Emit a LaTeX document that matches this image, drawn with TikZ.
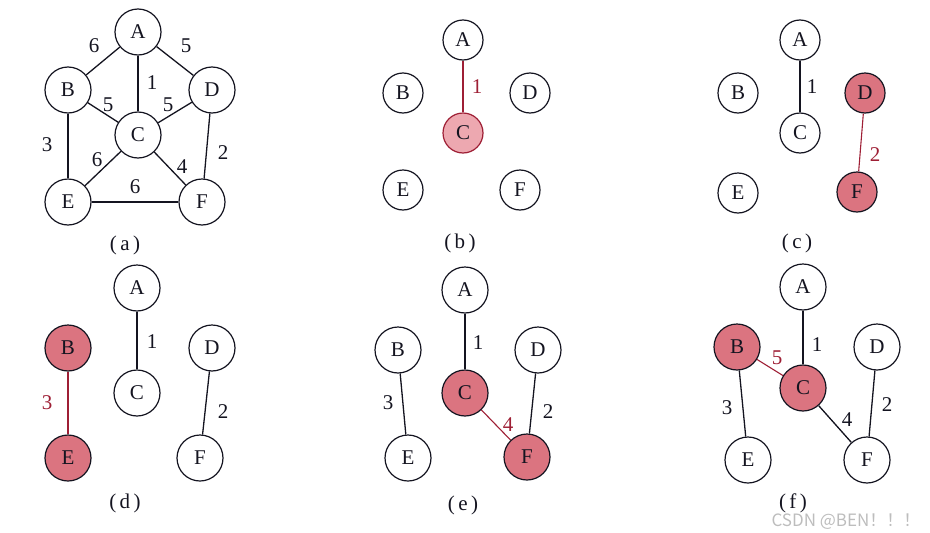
\documentclass[tikz,border=0pt]{standalone}
\usepackage{fontspec}
\setmainfont{Liberation Serif}
\newfontfamily\cjkfont{Noto Sans CJK SC}
\usetikzlibrary{positioning}
\definecolor{cRed}{HTML}{9E1F35}
\definecolor{cPink}{HTML}{DB7480}
\definecolor{cPinkLt}{HTML}{EDA8B0}
\definecolor{cInk}{HTML}{141420}
\definecolor{cMark}{HTML}{BDBDBD}

\begin{document}
\begin{tikzpicture}[x=1pt,y=-1pt,font=\fontsize{21}{24}\selectfont,
      vtx/.style={circle,draw=cInk,line width=1.2pt,minimum size=46pt,inner sep=0pt,text=cInk},
      vsm/.style={vtx,minimum size=40pt},
      hot/.style={fill=cPink},
      wgt/.style={text=cInk,inner sep=1pt},
      wred/.style={wgt,text=cRed},
      edg/.style={line width=1.3pt,cInk},
      ered/.style={line width=1.1pt,cRed},
      sublbl/.style={inner sep=1pt,text=cInk}]
    \useasboundingbox (0,0) rectangle (930,533);

    % (a) the whole graph
    \node[vtx] (aA) at (138,32) {A};
    \node[vtx] (aB) at (68,90) {B};
    \node[vtx] (aD) at (212,90) {D};
    \node[vtx] (aC) at (138,135) {C};
    \node[vtx] (aE) at (68,202) {E};
    \node[vtx] (aF) at (202,202) {F};
    \draw[edg] (aA) -- (aB);
    \draw[edg] (aA) -- (aD);
    \draw[edg] (aA) -- (aC);
    \draw[edg] (aB) -- (aC);
    \draw[edg] (aD) -- (aC);
    \draw[edg] (aB) -- (aE);
    \draw[edg] (aE) -- (aC);
    \draw[edg] (aC) -- (aF);
    \draw[edg] (aD) -- (aF);
    \draw[edg] (aE) -- (aF);
    \node[wgt] (aAB) at (94,46) {6};
    \node[wgt] (aAD) at (186,46) {5};
    \node[wgt] (aAC) at (152,83) {1};
    \node[wgt] (aBC) at (108,105) {5};
    \node[wgt] (aDC) at (168,105) {5};
    \node[wgt] (aBE) at (47,145) {3};
    \node[wgt] (aEC) at (97,160) {6};
    \node[wgt] (aCF) at (182,167) {4};
    \node[wgt] (aDF) at (223,153) {2};
    \node[wgt] (aEF) at (135,187) {6};
    \node[sublbl] (capa) at (125,245) {(\,a\,)};

    % (b) first edge
    \node[vsm] (bA) at (463,40) {A};
    \node[vsm] (bB) at (403,93) {B};
    \node[vsm] (bD) at (530,93) {D};
    \node[vsm,draw=cRed,fill=cPinkLt] (bC) at (463,133) {C};
    \node[vsm] (bE) at (403,190) {E};
    \node[vsm] (bF) at (520,190) {F};
    \draw[ered] (bA) -- (bC);
    \node[wred] (bAC) at (477,87) {1};
    \node[sublbl] (capb) at (460,243) {(\,b\,)};

    % (c)
    \node[vsm] (cA) at (800,40) {A};
    \node[vsm] (cB) at (738,93) {B};
    \node[vsm,hot] (cD) at (865,93) {D};
    \node[vsm] (cC) at (800,133) {C};
    \node[vsm] (cE) at (738,193) {E};
    \node[vsm,hot] (cF) at (857,192) {F};
    \draw[edg] (cA) -- (cC);
    \draw[ered] (cD) -- (cF);
    \node[wgt] (cAC) at (812,87) {1};
    \node[wred] (cDF) at (875,155) {2};
    \node[sublbl] (capc) at (797,243) {(\,c\,)};

    % (d)
    \node[vtx] (dA) at (137,288) {A};
    \node[vtx,hot] (dB) at (68,348) {B};
    \node[vtx] (dD) at (212,348) {D};
    \node[vtx] (dC) at (137,393) {C};
    \node[vtx,hot] (dE) at (68,458) {E};
    \node[vtx] (dF) at (200,458) {F};
    \draw[edg] (dA) -- (dC);
    \draw[edg] (dD) -- (dF);
    \draw[ered] (dB) -- (dE);
    \node[wgt] (dAC) at (152,342) {1};
    \node[wgt] (dDF) at (223,412) {2};
    \node[wred] (dBE) at (47,403) {3};
    \node[sublbl] (capd) at (125,503) {(\,d\,)};

    % (e)
    \node[vtx] (eA) at (465,290) {A};
    \node[vtx] (eB) at (398,350) {B};
    \node[vtx] (eD) at (538,350) {D};
    \node[vtx,hot] (eC) at (465,393) {C};
    \node[vtx] (eE) at (408,458) {E};
    \node[vtx,hot] (eF) at (527,457) {F};
    \draw[edg] (eA) -- (eC);
    \draw[edg] (eD) -- (eF);
    \draw[edg] (eB) -- (eE);
    \draw[ered] (eC) -- (eF);
    \node[wgt] (eAC) at (478,343) {1};
    \node[wgt] (eBE) at (388,403) {3};
    \node[wgt] (eDF) at (548,412) {2};
    \node[wred] (eCF) at (508,425) {4};
    \node[sublbl] (cape) at (463,505) {(\,e\,)};

    % (f) spanning tree
    \node[vtx] (fA) at (803,287) {A};
    \node[vtx,hot] (fB) at (737,347) {B};
    \node[vtx] (fD) at (877,347) {D};
    \node[vtx,hot] (fC) at (803,388) {C};
    \node[vtx] (fE) at (748,460) {E};
    \node[vtx] (fF) at (867,460) {F};
    \draw[edg] (fA) -- (fC);
    \draw[edg] (fD) -- (fF);
    \draw[edg] (fB) -- (fE);
    \draw[edg] (fC) -- (fF);
    \draw[ered] (fB) -- (fC);
    \node[wgt] (fAC) at (817,345) {1};
    \node[wred] (fBC) at (777,358) {5};
    \node[wgt] (fBE) at (727,408) {3};
    \node[wgt] (fCF) at (847,420) {4};
    \node[wgt] (fDF) at (887,405) {2};
    \node[sublbl] (capf) at (793,503) {(\,f\,)};

    \node[text=cMark,font=\cjkfont\fontsize{17}{19}\selectfont] (mark) at (846,522) {CSDN @BEN！！！};
  \end{tikzpicture}
\end{document}
